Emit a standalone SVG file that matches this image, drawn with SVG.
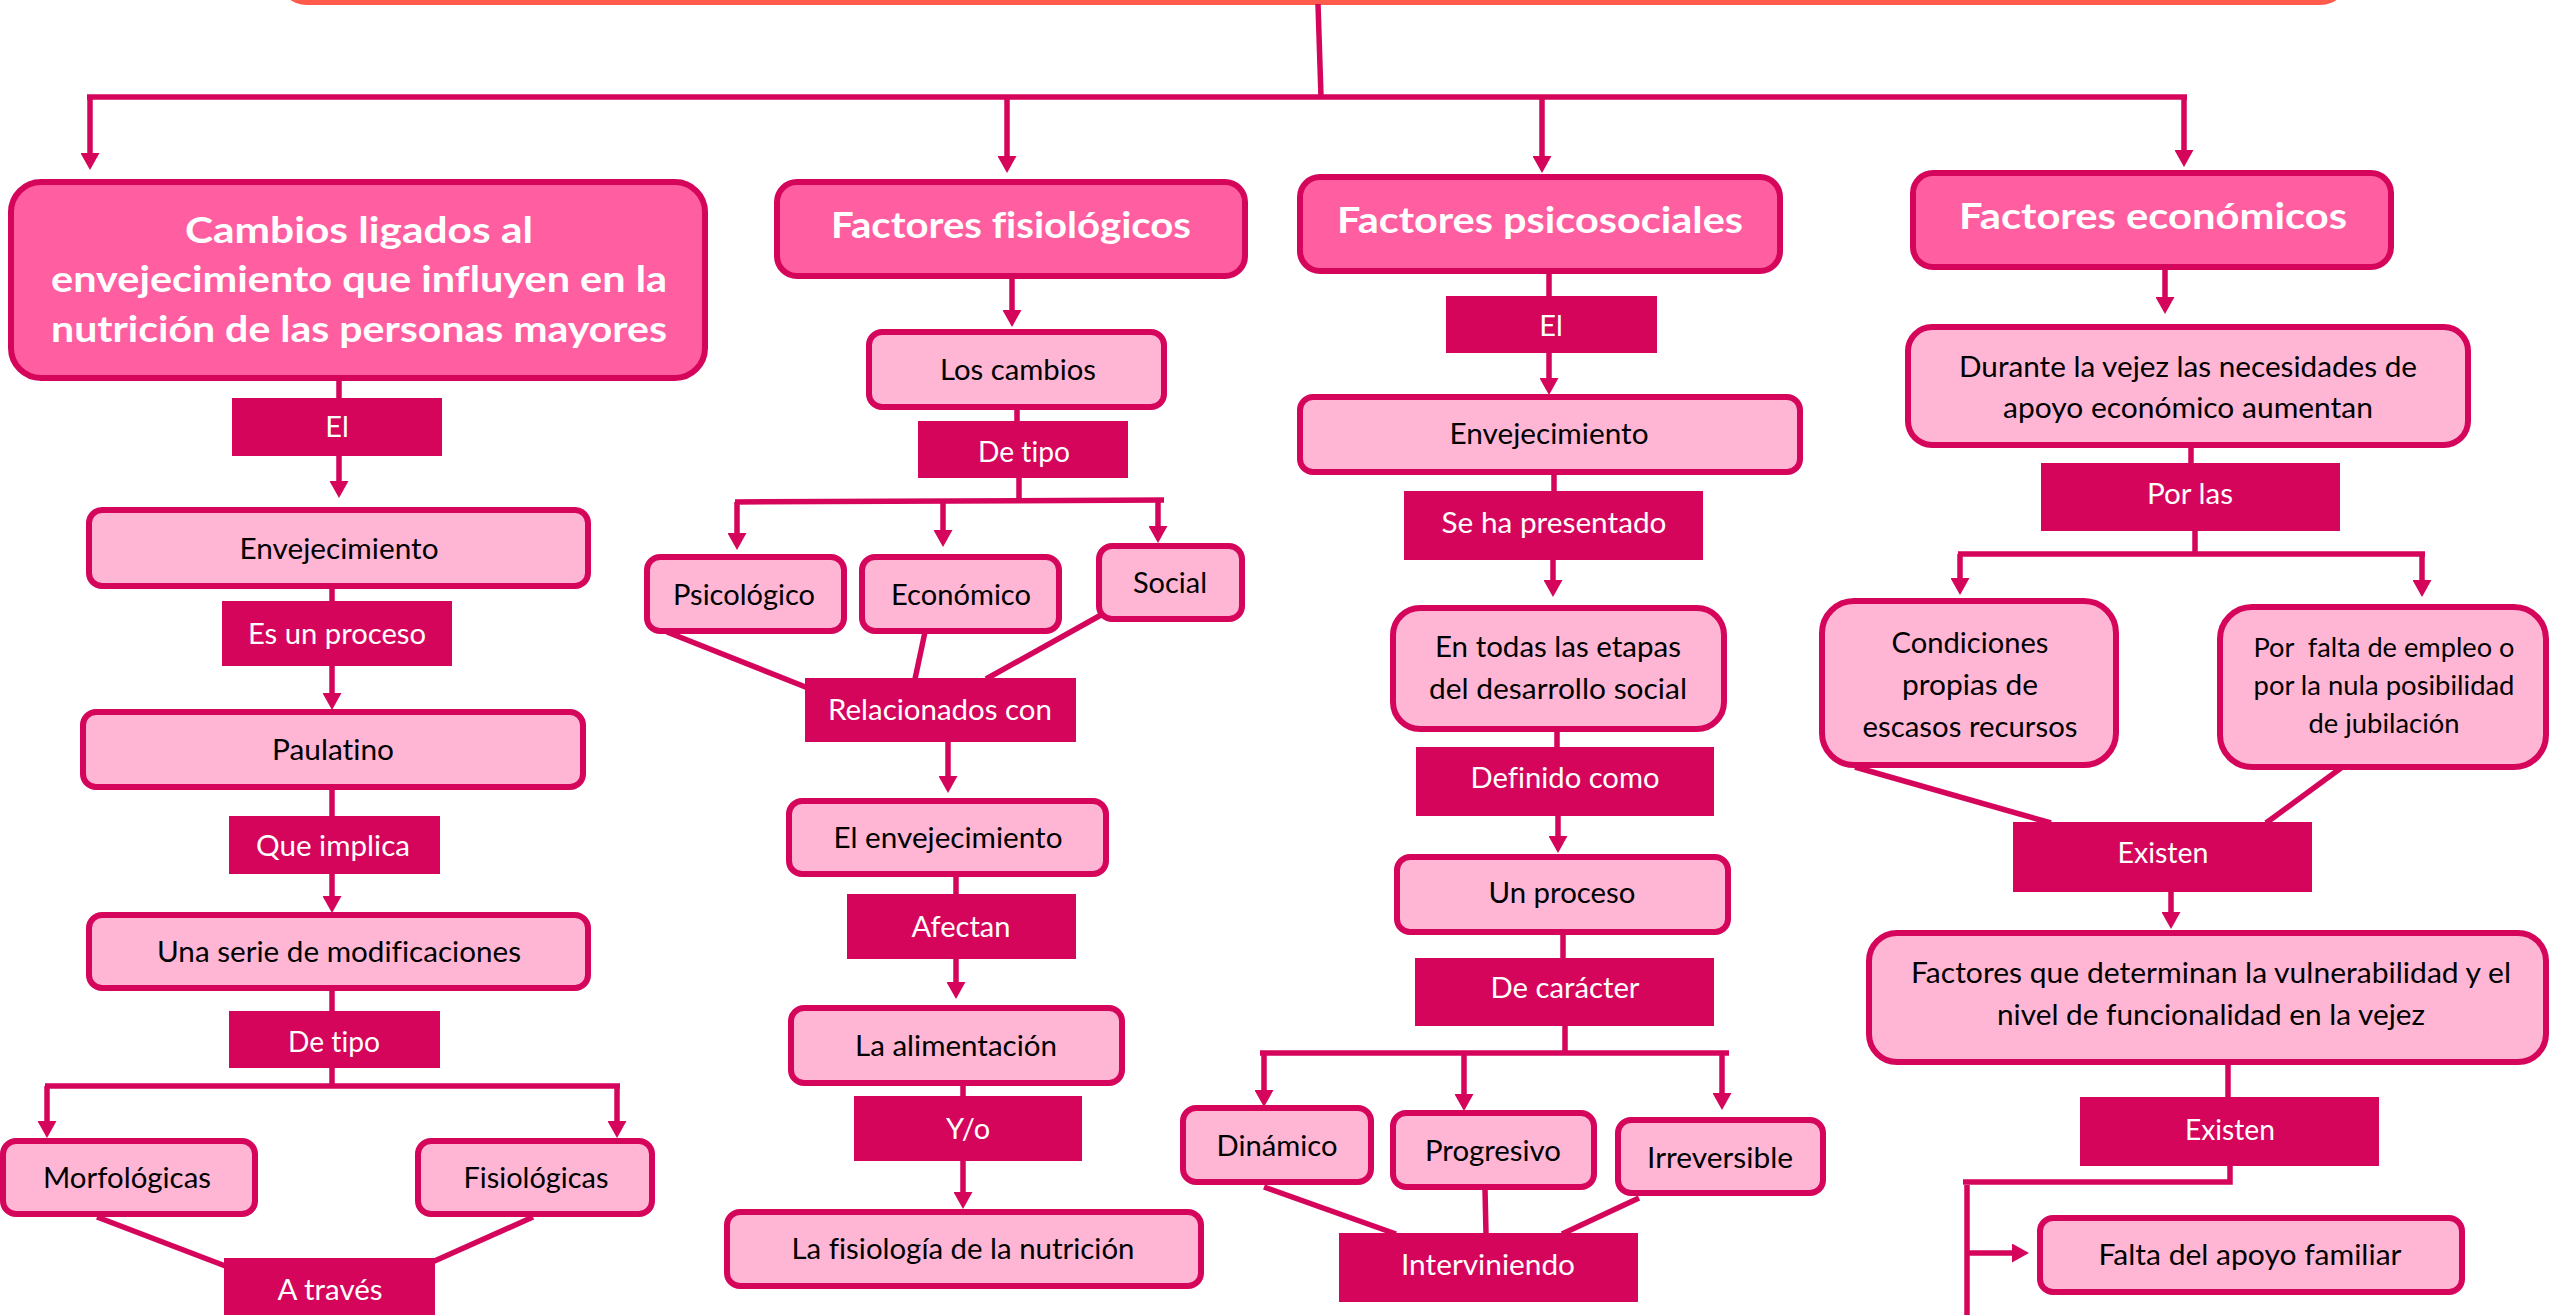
<svg xmlns="http://www.w3.org/2000/svg" width="2551" height="1315" viewBox="0 0 2551 1315">
<defs>
<style>
.hdr{fill:#FF5FA0;stroke:#D5055C;stroke-width:6}
.box{fill:#FFB6D5;stroke:#D5055C;stroke-width:6}
.lbl{fill:#D5055C}
.conn{fill:none;stroke:#D5055C;stroke-width:5.5;stroke-linecap:butt}
.arr{marker-end:url(#ah)}
text{font-variant-ligatures:none}
.ht{font-family:Lato,"Open Sans",sans-serif;font-weight:700;font-size:36px;fill:#FFFFFF;text-anchor:middle}
.bt{font-family:Lato,"Open Sans",sans-serif;font-size:29px;fill:#000000;text-anchor:middle}
.bs{font-family:Lato,"Open Sans",sans-serif;font-size:26.5px;fill:#000000;text-anchor:middle;white-space:pre}
.lt{font-family:Lato,"Open Sans",sans-serif;font-size:29px;fill:#FFFFFF;text-anchor:middle}
</style>
<marker id="ah" markerUnits="userSpaceOnUse" markerWidth="17" markerHeight="19" viewBox="0 0 17 19" refX="9" refY="9.5" orient="auto">
<path d="M0,0 L17,9.5 L0,19 z" fill="#D5055C"/>
</marker>
</defs>
<rect width="2551" height="1315" fill="#FFFFFF"/>

<g id="title-box">
<rect x="277" y="-200" width="2073" height="205" rx="30" fill="#FF5B4C"/>
</g>

<g id="connectors">
<path class="conn" d="M1318,4 L1321,97"/>
<path class="conn" d="M87,97 H2187"/>
<path class="conn arr" d="M90,97 V162"/>
<path class="conn arr" d="M1007,97 V165"/>
<path class="conn arr" d="M1542,97 V165"/>
<path class="conn arr" d="M2184,97 V159"/>
<path class="conn" d="M339,378 V398"/>
<path class="conn arr" d="M339,456 V490"/>
<path class="conn" d="M332,586 V601"/>
<path class="conn arr" d="M332,666 V702"/>
<path class="conn" d="M332,787 V816"/>
<path class="conn arr" d="M332,874 V905"/>
<path class="conn" d="M332,988 V1011"/>
<path class="conn" d="M332,1068 V1086"/>
<path class="conn" d="M45,1086 H620"/>
<path class="conn arr" d="M47,1086 V1130"/>
<path class="conn arr" d="M617,1086 V1130"/>
<path class="conn" d="M97,1217 L228,1267"/>
<path class="conn" d="M533,1217 L430,1263"/>
<path class="conn arr" d="M1012,276 V319"/>
<path class="conn" d="M1017,407 V421"/>
<path class="conn" d="M1019,478 V501"/>
<path class="conn" d="M735,502 L1164,500"/>
<path class="conn arr" d="M737,502 V542"/>
<path class="conn arr" d="M943,501 V539"/>
<path class="conn arr" d="M1158,500 V535"/>
<path class="conn" d="M667,632 L808,688"/>
<path class="conn" d="M925,632 L915,679"/>
<path class="conn" d="M1101,615 L986,679"/>
<path class="conn arr" d="M948,742 V785"/>
<path class="conn" d="M956,874 V894"/>
<path class="conn arr" d="M956,959 V991"/>
<path class="conn" d="M963,1083 V1096"/>
<path class="conn arr" d="M963,1161 V1201"/>
<path class="conn" d="M1549,271 V296"/>
<path class="conn arr" d="M1549,353 V387"/>
<path class="conn" d="M1554,472 V491"/>
<path class="conn arr" d="M1553,560 V589"/>
<path class="conn" d="M1557,729 V747"/>
<path class="conn arr" d="M1558,816 V845"/>
<path class="conn" d="M1563,932 V958"/>
<path class="conn" d="M1565,1026 V1053"/>
<path class="conn" d="M1260,1053 H1729"/>
<path class="conn arr" d="M1264,1053 V1099"/>
<path class="conn arr" d="M1464,1053 V1103"/>
<path class="conn arr" d="M1722,1053 V1102"/>
<path class="conn" d="M1264,1187 L1396,1234"/>
<path class="conn" d="M1485,1189 L1486,1234"/>
<path class="conn" d="M1639,1198 L1562,1234"/>
<path class="conn arr" d="M2165,267 V306"/>
<path class="conn" d="M2191,445 V463"/>
<path class="conn" d="M2195,531 V554"/>
<path class="conn" d="M1958,554 H2425"/>
<path class="conn arr" d="M1960,554 V587"/>
<path class="conn arr" d="M2422,554 V589"/>
<path class="conn" d="M1855,767 L2051,823"/>
<path class="conn" d="M2341,768 L2266,823"/>
<path class="conn arr" d="M2171,892 V921"/>
<path class="conn" d="M2228,1062 V1097"/>
<path class="conn" d="M2230,1166 V1182 H1963"/>
<path class="conn" d="M1967,1185 V1320"/>
<path class="conn arr" d="M1967,1253 H2021"/>
</g>

<g id="n-cambios">
<rect class="hdr" x="11" y="182" width="694" height="196" rx="30"/>
<text class="ht" x="359" y="243" textLength="348" lengthAdjust="spacingAndGlyphs">Cambios ligados al</text>
<text class="ht" x="359" y="292" textLength="616" lengthAdjust="spacingAndGlyphs">envejecimiento que influyen en la</text>
<text class="ht" x="359" y="342" textLength="616" lengthAdjust="spacingAndGlyphs">nutrición de las personas mayores</text>
</g>
<g id="l-el-1">
<rect class="lbl" x="232" y="398" width="210" height="58"/>
<text class="lt" x="337" y="437">El</text>
</g>
<g id="n-envejecimiento-1">
<rect class="box" x="89" y="510" width="499" height="76" rx="13"/>
<text class="bt" x="339" y="559" textLength="199" lengthAdjust="spacingAndGlyphs">Envejecimiento</text>
</g>
<g id="l-es-un-proceso">
<rect class="lbl" x="222" y="601" width="230" height="65"/>
<text class="lt" x="337" y="644" textLength="178" lengthAdjust="spacingAndGlyphs">Es un proceso</text>
</g>
<g id="n-paulatino">
<rect class="box" x="83" y="712" width="500" height="75" rx="13"/>
<text class="bt" x="333" y="760" textLength="122" lengthAdjust="spacingAndGlyphs">Paulatino</text>
</g>
<g id="l-que-implica">
<rect class="lbl" x="229" y="816" width="211" height="58"/>
<text class="lt" x="333" y="856" textLength="154" lengthAdjust="spacingAndGlyphs">Que implica</text>
</g>
<g id="n-una-serie">
<rect class="box" x="89" y="915" width="499" height="73" rx="13"/>
<text class="bt" x="339" y="962" textLength="364" lengthAdjust="spacingAndGlyphs">Una serie de modificaciones</text>
</g>
<g id="l-de-tipo-1">
<rect class="lbl" x="229" y="1011" width="211" height="57"/>
<text class="lt" x="334" y="1052" textLength="92" lengthAdjust="spacingAndGlyphs">De tipo</text>
</g>
<g id="n-morfologicas">
<rect class="box" x="3" y="1141" width="252" height="73" rx="13"/>
<text class="bt" x="127" y="1188" textLength="168" lengthAdjust="spacingAndGlyphs">Morfológicas</text>
</g>
<g id="n-fisiologicas">
<rect class="box" x="418" y="1141" width="234" height="73" rx="13"/>
<text class="bt" x="536" y="1188" textLength="145" lengthAdjust="spacingAndGlyphs">Fisiológicas</text>
</g>
<g id="l-a-traves">
<rect class="lbl" x="224" y="1258" width="211" height="70"/>
<text class="lt" x="330" y="1300" textLength="105" lengthAdjust="spacingAndGlyphs">A través</text>
</g>

<g id="n-fisiologicos">
<rect class="hdr" x="777" y="182" width="468" height="94" rx="20"/>
<text class="ht" x="1011" y="238" textLength="360" lengthAdjust="spacingAndGlyphs">Factores fisiológicos</text>
</g>
<g id="n-los-cambios">
<rect class="box" x="869" y="332" width="295" height="75" rx="13"/>
<text class="bt" x="1018" y="380" textLength="156" lengthAdjust="spacingAndGlyphs">Los cambios</text>
</g>
<g id="l-de-tipo-2">
<rect class="lbl" x="918" y="421" width="210" height="57"/>
<text class="lt" x="1024" y="462" textLength="92" lengthAdjust="spacingAndGlyphs">De tipo</text>
</g>
<g id="n-psicologico">
<rect class="box" x="647" y="557" width="197" height="74" rx="13"/>
<text class="bt" x="744" y="605" textLength="142" lengthAdjust="spacingAndGlyphs">Psicológico</text>
</g>
<g id="n-economico">
<rect class="box" x="862" y="557" width="197" height="74" rx="13"/>
<text class="bt" x="961" y="605" textLength="140" lengthAdjust="spacingAndGlyphs">Económico</text>
</g>
<g id="n-social">
<rect class="box" x="1099" y="546" width="143" height="73" rx="13"/>
<text class="bt" x="1170" y="593" textLength="74" lengthAdjust="spacingAndGlyphs">Social</text>
</g>
<g id="l-relacionados">
<rect class="lbl" x="805" y="678" width="271" height="64"/>
<text class="lt" x="940" y="720" textLength="224" lengthAdjust="spacingAndGlyphs">Relacionados con</text>
</g>
<g id="n-el-envejecimiento">
<rect class="box" x="789" y="801" width="317" height="73" rx="13"/>
<text class="bt" x="948" y="848" textLength="229" lengthAdjust="spacingAndGlyphs">El envejecimiento</text>
</g>
<g id="l-afectan">
<rect class="lbl" x="847" y="894" width="229" height="65"/>
<text class="lt" x="961" y="937" textLength="99" lengthAdjust="spacingAndGlyphs">Afectan</text>
</g>
<g id="n-alimentacion">
<rect class="box" x="791" y="1008" width="331" height="75" rx="13"/>
<text class="bt" x="956" y="1056" textLength="202" lengthAdjust="spacingAndGlyphs">La alimentación</text>
</g>
<g id="l-yo">
<rect class="lbl" x="854" y="1096" width="228" height="65"/>
<text class="lt" x="968" y="1139">Y/o</text>
</g>
<g id="n-fisiologia-nutricion">
<rect class="box" x="727" y="1212" width="474" height="74" rx="13"/>
<text class="bt" x="963" y="1259" textLength="343" lengthAdjust="spacingAndGlyphs">La fisiología de la nutrición</text>
</g>

<g id="n-psicosociales">
<rect class="hdr" x="1300" y="177" width="480" height="94" rx="20"/>
<text class="ht" x="1540" y="233" textLength="406" lengthAdjust="spacingAndGlyphs">Factores psicosociales</text>
</g>
<g id="l-el-2">
<rect class="lbl" x="1446" y="296" width="211" height="57"/>
<text class="lt" x="1551" y="336">El</text>
</g>
<g id="n-envejecimiento-2">
<rect class="box" x="1300" y="397" width="500" height="75" rx="13"/>
<text class="bt" x="1549" y="444" textLength="199" lengthAdjust="spacingAndGlyphs">Envejecimiento</text>
</g>
<g id="l-se-ha-presentado">
<rect class="lbl" x="1404" y="491" width="299" height="69"/>
<text class="lt" x="1554" y="533" textLength="225" lengthAdjust="spacingAndGlyphs">Se ha presentado</text>
</g>
<g id="n-todas-etapas">
<rect class="box" x="1393" y="608" width="331" height="121" rx="27"/>
<text class="bt" x="1558" y="657" textLength="246" lengthAdjust="spacingAndGlyphs">En todas las etapas</text>
<text class="bt" x="1558" y="699" textLength="258" lengthAdjust="spacingAndGlyphs">del desarrollo social</text>
</g>
<g id="l-definido-como">
<rect class="lbl" x="1416" y="747" width="298" height="69"/>
<text class="lt" x="1565" y="788" textLength="189" lengthAdjust="spacingAndGlyphs">Definido como</text>
</g>
<g id="n-un-proceso">
<rect class="box" x="1397" y="857" width="331" height="75" rx="13"/>
<text class="bt" x="1562" y="903" textLength="147" lengthAdjust="spacingAndGlyphs">Un proceso</text>
</g>
<g id="l-de-caracter">
<rect class="lbl" x="1415" y="958" width="299" height="68"/>
<text class="lt" x="1565" y="998" textLength="149" lengthAdjust="spacingAndGlyphs">De carácter</text>
</g>
<g id="n-dinamico">
<rect class="box" x="1183" y="1108" width="188" height="74" rx="13"/>
<text class="bt" x="1277" y="1156" textLength="121" lengthAdjust="spacingAndGlyphs">Dinámico</text>
</g>
<g id="n-progresivo">
<rect class="box" x="1393" y="1113" width="201" height="74" rx="13"/>
<text class="bt" x="1493" y="1161" textLength="136" lengthAdjust="spacingAndGlyphs">Progresivo</text>
</g>
<g id="n-irreversible">
<rect class="box" x="1618" y="1120" width="205" height="73" rx="13"/>
<text class="bt" x="1720" y="1168" textLength="146" lengthAdjust="spacingAndGlyphs">Irreversible</text>
</g>
<g id="l-interviniendo">
<rect class="lbl" x="1339" y="1233" width="299" height="69"/>
<text class="lt" x="1488" y="1275" textLength="174" lengthAdjust="spacingAndGlyphs">Interviniendo</text>
</g>

<g id="n-economicos">
<rect class="hdr" x="1913" y="173" width="478" height="94" rx="20"/>
<text class="ht" x="2153" y="229" textLength="388" lengthAdjust="spacingAndGlyphs">Factores económicos</text>
</g>
<g id="n-durante-vejez">
<rect class="box" x="1908" y="327" width="560" height="118" rx="24"/>
<text class="bt" x="2188" y="377" textLength="458" lengthAdjust="spacingAndGlyphs">Durante la vejez las necesidades de</text>
<text class="bt" x="2188" y="418" textLength="370" lengthAdjust="spacingAndGlyphs">apoyo económico aumentan</text>
</g>
<g id="l-por-las">
<rect class="lbl" x="2041" y="463" width="299" height="68"/>
<text class="lt" x="2190" y="504" textLength="86" lengthAdjust="spacingAndGlyphs">Por las</text>
</g>
<g id="n-condiciones">
<rect class="box" x="1822" y="601" width="294" height="164" rx="32"/>
<text class="bt" x="1970" y="653" textLength="157" lengthAdjust="spacingAndGlyphs">Condiciones</text>
<text class="bt" x="1970" y="695" textLength="136" lengthAdjust="spacingAndGlyphs">propias de</text>
<text class="bt" x="1970" y="737" textLength="215" lengthAdjust="spacingAndGlyphs">escasos recursos</text>
</g>
<g id="n-falta-empleo">
<rect class="box" x="2220" y="607" width="326" height="160" rx="32"/>
<text class="bs" x="2384" y="657" textLength="261" lengthAdjust="spacingAndGlyphs" xml:space="preserve">Por  falta de empleo o</text>
<text class="bs" x="2384" y="695" textLength="261" lengthAdjust="spacingAndGlyphs">por la nula posibilidad</text>
<text class="bs" x="2384" y="733" textLength="151" lengthAdjust="spacingAndGlyphs">de jubilación</text>
</g>
<g id="l-existen-1">
<rect class="lbl" x="2013" y="822" width="299" height="70"/>
<text class="lt" x="2163" y="863" textLength="91" lengthAdjust="spacingAndGlyphs">Existen</text>
</g>
<g id="n-factores-vulnerabilidad">
<rect class="box" x="1869" y="933" width="677" height="129" rx="28"/>
<text class="bt" x="2211" y="983" textLength="600" lengthAdjust="spacingAndGlyphs">Factores que determinan la vulnerabilidad y el</text>
<text class="bt" x="2211" y="1025" textLength="428" lengthAdjust="spacingAndGlyphs">nivel de funcionalidad en la vejez</text>
</g>
<g id="l-existen-2">
<rect class="lbl" x="2080" y="1097" width="299" height="69"/>
<text class="lt" x="2230" y="1140" textLength="90" lengthAdjust="spacingAndGlyphs">Existen</text>
</g>
<g id="n-falta-apoyo">
<rect class="box" x="2040" y="1218" width="422" height="74" rx="13"/>
<text class="bt" x="2250" y="1265" textLength="303" lengthAdjust="spacingAndGlyphs">Falta del apoyo familiar</text>
</g>
</svg>
